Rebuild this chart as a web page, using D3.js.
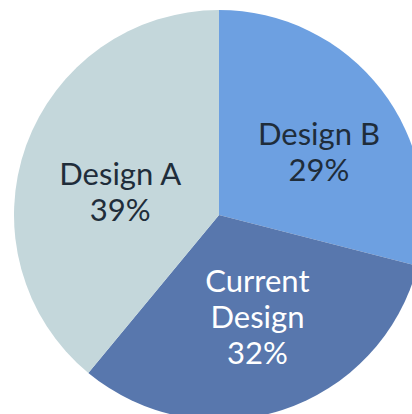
<!DOCTYPE html>
<html>
<head>
<meta charset="utf-8">
<script src="https://cdn.jsdelivr.net/npm/d3@7"></script>
<style>
  html, body { margin: 0; padding: 0; background: #fff; }
  svg { display: block; }
</style>
</head>
<body>
<script>
const names = ["Design B", "Current Design", "Design A"]
const shares = [29, 32, 39]
const labelLines = [["Design B", "29%"], ["Current", "Design", "32%"], ["Design A", "39%"]]

const colors = ["#6da0e1", "#5877ad", "#c4d7db"]
const textColors = ["#1f2d3a", "#ffffff", "#1f2d3a"]
// small hand nudges so the labels sit where the original puts them
const nudge = [[17, 2], [6, 3], [0, 14]]

const width = 412
const height = 414
const cx = 219
const cy = 215
const radius = 205

const svg = d3.select("body")
    .append("svg")
    .attr("width", width)
    .attr("height", height)

const pie = d3.pie().sort(null).value(d => d.value)
const arcs = pie(names.map((n, i) => ({ name: n, value: shares[i], i })))

const arc = d3.arc().innerRadius(0).outerRadius(radius)
const labelArc = d3.arc().innerRadius(105).outerRadius(105)

const g = svg.append("g").attr("transform", `translate(${cx},${cy})`)

g.selectAll("path")
    .data(arcs)
    .enter()
    .append("path")
    .attr("d", arc)
    .attr("fill", d => colors[d.data.i])

const lineH = 36

g.selectAll("text")
    .data(arcs)
    .enter()
    .append("text")
    .attr("text-anchor", "middle")
    .style("font-family", "Lato, 'Open Sans', sans-serif")
    .style("font-size", "31px")
    .attr("fill", d => textColors[d.data.i])
    .each(function(d) {
        const [x, y] = labelArc.centroid(d)
        const lines = labelLines[d.data.i]
        const nx = x + nudge[d.data.i][0]
        const ny = y + nudge[d.data.i][1]
        const top = ny - (lines.length - 1) * lineH / 2 + 10
        const text = d3.select(this)
        lines.forEach((l, k) => {
            text.append("tspan")
                .attr("x", nx)
                .attr("y", top + k * lineH)
                .text(l)
        })
    })
</script>
</body>
</html>
